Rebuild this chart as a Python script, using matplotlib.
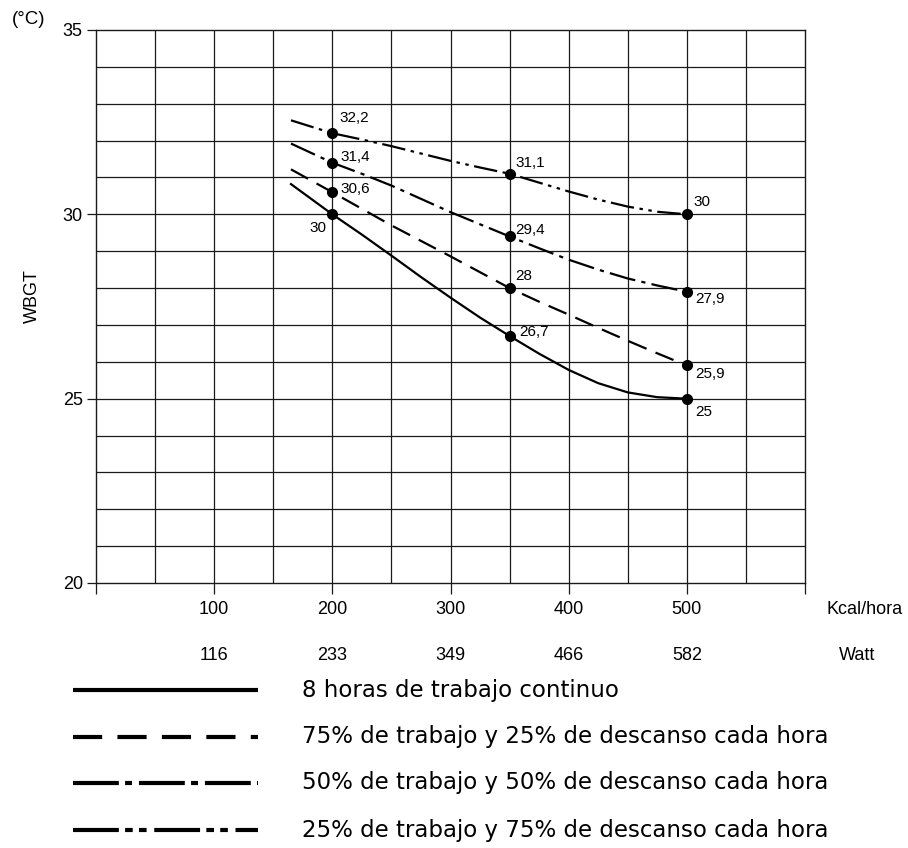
import matplotlib
matplotlib.use("Agg")
import matplotlib.pyplot as plt
from matplotlib.lines import Line2D

plt.rcParams['font.family'] = ['Liberation Sans', 'DejaVu Sans']
plt.rcParams['lines.scale_dashes'] = False

# ---------------- data ----------------
kcal = [165, 200, 225, 250, 275, 300, 325, 350, 375, 400, 425, 450, 475, 500]
wbgt_100 = [30.82, 30.0, 29.45, 28.88, 28.3, 27.74, 27.2, 26.7, 26.22, 25.78, 25.42, 25.17, 25.04, 25.0]
wbgt_75 = [31.22, 30.6, 30.15, 29.7, 29.28, 28.86, 28.43, 28.0, 27.63, 27.28, 26.92, 26.57, 26.23, 25.9]
wbgt_50 = [31.92, 31.4, 31.1, 30.78, 30.42, 30.06, 29.73, 29.4, 29.08, 28.77, 28.5, 28.26, 28.07, 27.9]
wbgt_25 = [32.55, 32.2, 32.03, 31.85, 31.65, 31.45, 31.27, 31.1, 30.86, 30.62, 30.4, 30.21, 30.07, 30.0]

marker_x = [200, 350, 500]
marker_100 = [30.0, 26.7, 25.0]
marker_75 = [30.6, 28.0, 25.9]
marker_50 = [31.4, 29.4, 27.9]
marker_25 = [32.2, 31.1, 30.0]

kcal_ticks = [100, 200, 300, 400, 500]
watt_labels = ['116', '233', '349', '466', '582']
y_ticks = [20, 25, 30, 35]

legend_labels = ['8 horas de trabajo continuo',
                 '75% de trabajo y 25% de descanso cada hora',
                 '50% de trabajo y 50% de descanso cada hora',
                 '25% de trabajo y 75% de descanso cada hora']

# ---------------- figure ----------------
W, H = 908, 848
fig = plt.figure(figsize=(W / 100, H / 100), dpi=100)
ax = fig.add_axes([96 / W, 1 - 583 / H, (805 - 96) / W, (583 - 30) / H])

ax.set_xlim(0, 600)
ax.set_ylim(20, 35)

gc = '#1a1a1a'
for gx in range(50, 600, 50):
    ax.axvline(gx, color=gc, lw=0.9, zorder=1)
for gy in range(21, 35):
    ax.axhline(gy, color=gc, lw=0.9, zorder=1)
for s in ax.spines.values():
    s.set_color(gc)
    s.set_linewidth(1.0)

ax.set_xticks(range(0, 601, 100))
ax.set_xticklabels([])
ax.tick_params(axis='x', direction='out', length=8, width=0.9, color=gc)
ax.set_yticks(y_ticks)
ax.set_yticklabels([str(v) for v in y_ticks], fontsize=13)
ax.tick_params(axis='y', direction='out', length=6.5, width=0.9, color=gc, pad=3)

# tick label rows
trans = ax.get_xaxis_transform()
for xv in kcal_ticks:
    ax.text(xv, -27 / 553, str(xv), transform=trans, ha='center', va='center', fontsize=13)
for xv, wl in zip(kcal_ticks, watt_labels):
    ax.text(xv, -72 / 553, wl, transform=trans, ha='center', va='center', fontsize=13)
fig.text(865 / W, 1 - 610 / H, 'Kcal/hora', ha='center', va='center', fontsize=13)
fig.text(857 / W, 1 - 655 / H, 'Watt', ha='center', va='center', fontsize=13)

fig.text(29 / W, 1 - 19 / H, '(°C)', ha='center', va='center', fontsize=13.5)
fig.text(32 / W, 1 - 296 / H, 'WBGT', ha='center', va='center', rotation=90, fontsize=13)

# curves
styles_plot = [
    dict(linestyle='-'),
    dict(linestyle=(0, (14, 7))),
    dict(linestyle=(0, (19, 4.5, 3, 4.5))),
    dict(linestyle=(0, (17, 4, 2.5, 4, 2.5, 4))),
]
series = [wbgt_100, wbgt_75, wbgt_50, wbgt_25]
markers = [marker_100, marker_75, marker_50, marker_25]
for ys, mk, st in zip(series, markers, styles_plot):
    ax.plot(kcal, ys, color='black', lw=1.6, zorder=3, **st)
    ax.plot(marker_x, mk, 'o', color='black', ms=7, zorder=4)

# value annotations
def fmt(v):
    s = ('%.1f' % v).replace('.', ',')
    return s[:-2] if s.endswith(',0') else s

offsets = {
    (0, 0): (-23, -14), (0, 1): (10, 4), (0, 2): (8, -13),
    (1, 0): (8, 3), (1, 1): (6, 12), (1, 2): (8, -9),
    (2, 0): (8, 6), (2, 1): (6, 6), (2, 2): (8, -7),
    (3, 0): (7, 15), (3, 1): (6, 11), (3, 2): (7, 12),
}
for si, mk in enumerate(markers):
    for pi, (xv, yv) in enumerate(zip(marker_x, mk)):
        dx, dy = offsets[(si, pi)]
        ax.annotate(fmt(yv), (xv, yv), xytext=(dx, dy), textcoords='offset pixels',
                    ha='left', va='center', fontsize=11, zorder=5)

# legend (manual)
lax = fig.add_axes([0, 0, 1, 1])
lax.set_xlim(0, W)
lax.set_ylim(H, 0)
lax.axis('off')
styles_leg = [
    dict(linestyle='-'),
    dict(linestyle=(0, (21, 11))),
    dict(linestyle=(0, (33, 4.5, 5, 5))),
    dict(linestyle=(0, (33, 4.5, 5.5, 4.5, 5.5, 5.5))),
]
rows = [690, 737, 783, 830]
for ry, st, lab in zip(rows, styles_leg, legend_labels):
    lax.add_line(Line2D([73, 258], [ry, ry], color='black', lw=3, solid_capstyle='butt',
                        dash_capstyle='butt', **st))
    lax.text(302, ry, lab, ha='left', va='center', fontsize=16.5,
             family=['DejaVu Sans'])

fig.savefig('out.png', dpi=100)
